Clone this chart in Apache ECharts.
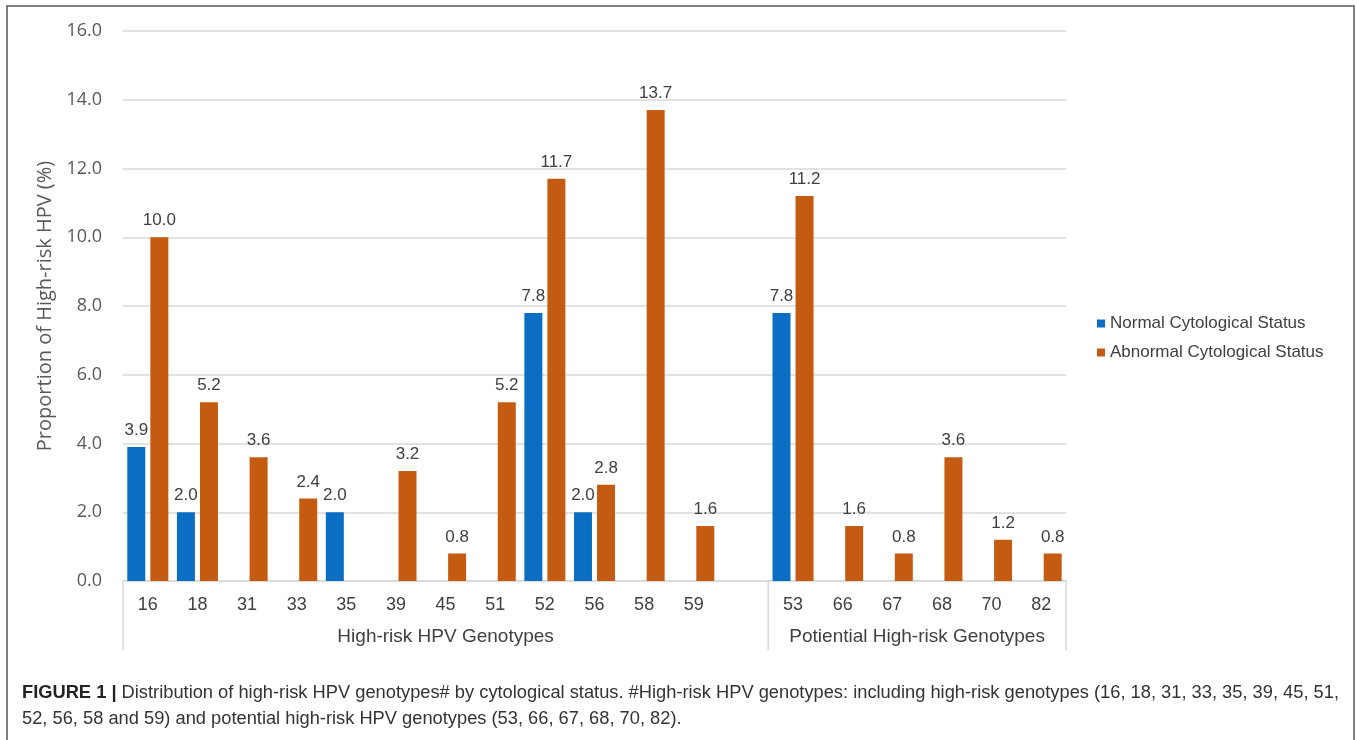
<!DOCTYPE html>
<html>
<head>
<meta charset="utf-8">
<script src="https://cdn.jsdelivr.net/npm/echarts@6/dist/echarts.min.js"></script>
<style>
  html, body { margin:0; padding:0; background:#fff; }
  #chart { width:1357px; height:740px; }
</style>
</head>
<body>
<div id="chart"></div>
<script>
const categories = ['16','18','31','33','35','39','45','51','52','56','58','59','','53','66','67','68','70','82'];
const normalValues   = [3.9, 2.0, null, null, 2.0, null, null, null, 7.8, 2.0, null, null, null, 7.8, null, null, null, null, null];
const abnormalValues = [10.0, 5.2, 3.6, 2.4, null, 3.2, 0.8, 5.2, 11.7, 2.8, 13.7, 1.6, null, 11.2, 1.6, 0.8, 3.6, 1.2, 0.8];
const seriesNames = ['Normal Cytological Status', 'Abnormal Cytological Status'];
const groups = [
  { name: 'High-risk HPV Genotypes', from: 0, to: 12 },
  { name: 'Potiential High-risk Genotypes', from: 13, to: 18 }
];
const yTicks = { min: 0, max: 16, interval: 2 };
const captionBold = 'FIGURE 1 |';
const captionLine1 = ' Distribution of high-risk HPV genotypes\u0023 by cytological status. \u0023High-risk HPV genotypes: including high-risk genotypes (16, 18, 31, 33, 35, 39, 45, 51,';
const captionLine2 = '52, 56, 58 and 59) and potential high-risk HPV genotypes (53, 66, 67, 68, 70, 82).';

const chart = echarts.init(document.getElementById('chart'), null, { renderer: 'canvas' });
const txt = '#404040';
const sans = 'Liberation Sans, Arial, sans-serif';
const narrow = 'Liberation Sans Narrow, Arial Narrow, Liberation Sans, sans-serif';
const labelFont = { fontFamily: sans, fontSize: 17, color: txt };

chart.setOption({
  animation: false,
  backgroundColor: '#fff',
  grid: { left: 123, right: 291, top: 31, bottom: 159 },
  legend: {
    orient: 'vertical',
    left: 1092, top: 310,
    itemWidth: 8, itemHeight: 8, itemGap: 12,
    icon: 'rect',
    textStyle: { fontFamily: sans, fontSize: 17, color: txt, padding: [0,0,0,0] },
    data: seriesNames
  },
  xAxis: {
    type: 'category',
    data: categories,
    axisLine: { show: true, lineStyle: { color: '#d9d9d9', width: 1.5 } },
    axisTick: { show: false },
    axisLabel: { margin: 15, fontFamily: sans, fontSize: 18, color: txt, interval: 0 }
  },
  yAxis: {
    type: 'value',
    min: yTicks.min, max: yTicks.max, interval: yTicks.interval,
    name: 'Proportion of High-risk HPV (%)',
    nameLocation: 'middle',
    nameGap: 60,
    nameTextStyle: { fontFamily: 'Open Sans, Liberation Sans, sans-serif', fontSize: 20, color: '#595959' },
    axisLine: { show: false },
    axisTick: { show: false },
    axisLabel: { margin: 21, fontFamily: 'Open Sans, Liberation Sans, sans-serif', fontSize: 18, color: '#595959', formatter: v => v.toFixed(1) },
    splitLine: { lineStyle: { color: '#d9d9d9', width: 1.5 } }
  },
  series: [
    {
      name: seriesNames[0], type: 'bar', data: normalValues,
      barWidth: 18, barGap: '28%',
      itemStyle: { color: '#0a6fc2' },
      label: { show: true, position: 'top', distance: 8, formatter: p => p.value == null ? '' : p.value.toFixed(1), ...labelFont }
    },
    {
      name: seriesNames[1], type: 'bar', data: abnormalValues,
      barWidth: 18, barGap: '28%',
      itemStyle: { color: '#c55a11' },
      label: { show: true, position: 'top', distance: 8, formatter: p => p.value == null ? '' : p.value.toFixed(1), ...labelFont }
    }
  ]
});

function addGraphics() {
  const y0 = chart.convertToPixel({ yAxisIndex: 0 }, 0);
  const c0 = chart.convertToPixel({ xAxisIndex: 0 }, 0);
  const c1 = chart.convertToPixel({ xAxisIndex: 0 }, 1);
  const bw = c1 - c0;
  const edge = i => c0 + bw * (i - 0.5);
  const elements = [];
  const lineLen = 69;
  const bounds = [edge(groups[0].from), edge(groups[1].from), edge(groups[1].to + 1)];
  bounds.forEach(x => {
    elements.push({ type: 'line', shape: { x1: x, y1: y0, x2: x, y2: y0 + lineLen }, style: { stroke: '#d9d9d9', lineWidth: 1.5 }, silent: true });
  });
  groups.forEach((g, gi) => {
    const xl = gi === 0 ? bounds[0] : bounds[1];
    const xr = gi === 0 ? bounds[1] : bounds[2];
    elements.push({ type: 'text', x: (xl + xr) / 2, y: y0 + 56, style: { text: g.name, align: 'center', verticalAlign: 'middle', fontFamily: sans, fontSize: 19, fill: txt }, silent: true });
  });
  // outer frame
  elements.push({ type: 'rect', shape: { x: 7, y: 6, width: 1347, height: 740 }, style: { fill: 'none', stroke: '#555', lineWidth: 1.5 }, silent: true });
  // caption
  elements.push({
    type: 'text', x: 22, y: 693,
    style: {
      text: '{b|' + captionBold + '}{n|' + captionLine1 + '}',
      verticalAlign: 'middle',
      rich: {
        b: { fontFamily: narrow, fontWeight: 'bold', fontSize: 18.3, fill: '#222' },
        n: { fontFamily: narrow, fontSize: 18.3, fill: '#333' }
      }
    }, silent: true
  });
  elements.push({
    type: 'text', x: 22, y: 719,
    style: { text: captionLine2, verticalAlign: 'middle', fontFamily: narrow, fontSize: 18.3, fill: '#333' },
    silent: true
  });
  chart.setOption({ graphic: elements });
}
addGraphics();
</script>
</body>
</html>
